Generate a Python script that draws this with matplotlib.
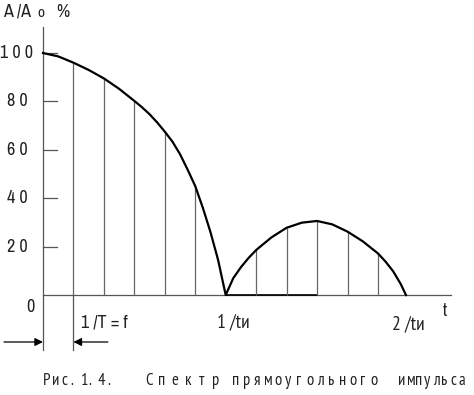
import matplotlib
matplotlib.use("Agg")
import matplotlib.pyplot as plt
from matplotlib import font_manager
from matplotlib.ft2font import FT2Font

# harmonic numbers k (x in units of 1/T) and amplitude A/A0, %
line_k_lobe1 = [1, 2, 3, 4, 5]
line_a_lobe1 = [96, 89.5, 80.2, 67.5, 45]
line_k_lobe2 = [7, 8, 9, 10, 11]
line_a_lobe2 = [18.6, 27.8, 30.6, 26.2, 17.2]

# envelope
env_k = [0, 0.5, 1, 1.5, 2, 2.5, 3, 3.25, 3.5, 3.75, 4, 4.25, 4.5, 4.75, 5, 5.25, 5.5, 5.75, 6,
         6.25, 6.5, 6.75, 7, 7.5, 8, 8.5, 9, 9.5, 10, 10.5, 11, 11.25, 11.5, 11.75, 11.92]
env_a = [100, 98.6, 96, 93, 89.5, 85.2, 80.2, 77.6, 74.7, 71.3, 67.5, 63.4, 58.2, 51.8, 45, 36, 26, 14.5, 0,
         7, 11.5, 15.3, 18.6, 23.8, 27.8, 29.9, 30.6, 29.2, 26.2, 22.2, 17.2, 13.8, 9.8, 4.5, 0]

y_ticks = [20, 40, 60, 80, 100]
y_tick_labels = ["2 0", "4 0", "6 0", "8 0", "1 0 0"]

caption_words = ["Рис.1.4.", "Спектр", "прямоугольного", "импульса"]
caption_spans = [(0, 2.3), (3.35, 5.75), (6.21, 10.95), (11.66, 13.85)]   # in k units

PX = 1 / 30.45  # one pixel in k units


def has_cyr(path):
    try:
        return 0x0438 in FT2Font(path).get_charmap()
    except Exception:
        return False


# condensed faces: one for latin/digits, one that also has cyrillic
cands = []
for key in ("Narrow", "Condensed"):
    for f in font_manager.fontManager.ttflist:
        if key in f.name and f.style == "normal" and f.weight in (400, "normal", "regular"):
            cands.append(f)
for f in font_manager.fontManager.ttflist:
    if f.stretch in ("condensed", "semi-condensed") and f.style == "normal" \
            and f.weight in (400, "normal", "regular") and f not in cands:
        cands.append(f)

lat = cands[0] if cands else None
cyr = next((f for f in cands if has_cyr(f.fname)), None)

if lat is not None:
    fp_lat = font_manager.FontProperties(fname=lat.fname)
else:
    fp_lat = font_manager.FontProperties(family="Roboto")
if cyr is not None:
    fp_cyr = font_manager.FontProperties(fname=cyr.fname)
else:
    fp_cyr = font_manager.FontProperties(family=["Roboto", "DejaVu Sans"])
base = 13

fig = plt.figure(figsize=(4.74, 3.95), dpi=100)
ax = fig.add_axes([0, 0, 1, 1])
ax.set_xlim(-1.412, 14.154)
ax.set_ylim(-41.3, 121.9)
ax.axis("off")

axc = "#555555"
# axes
ax.plot([0, 0], [110.7, -22.7], color=axc, lw=0.9)
ax.plot([0, 13.4], [0, 0], color=axc, lw=0.9)
ax.plot([6, 9], [0, 0], color="black", lw=1.2)
for t in y_ticks:
    ax.plot([0, 0.46], [t, t], color=axc, lw=0.9)

# spectral lines
ax.vlines(line_k_lobe1, 0, line_a_lobe1, color="#666666", lw=0.9)
ax.vlines(line_k_lobe2, 0, line_a_lobe2, color="#666666", lw=0.9)
ax.plot([1, 1], [0, -22.7], color=axc, lw=0.9)

# envelope
ax.plot(env_k, env_a, color="black", lw=1.6, solid_joinstyle="round")


def txt(x, y, s, size=None, fp=fp_lat, **kw):
    p = fp.copy()
    p.set_size(size or base)
    return ax.text(x, y, s, fontproperties=p, color="#222222", **kw)


for t, lab in zip(y_ticks, y_tick_labels):
    txt(-0.854, t, lab, ha="center", va="center")
txt(-0.41, -4.75, "0", ha="center", va="center")
txt(1.25, -11.4, "1 /T = f", ha="left", va="center")
txt(6.24, -11.4, "1 /tи", fp=fp_cyr, size=14, ha="center", va="center")
txt(11.99, -12.2, "2 /tи", fp=fp_cyr, size=14, ha="center", va="center")
txt(13.2, -6.6, "t", ha="center", va="center")

txt(-1.31, 117, "A /A", ha="left", va="center")
txt(-0.17, 116.6, "o", size=base - 2, ha="left", va="center")
txt(0.43, 117, "%", ha="left", va="center")

# interval arrows
for tip, tail in [(0, -1.28), (1, 2.13)]:
    ax.annotate("", xy=(tip, -19.4), xytext=(tail, -19.4),
                arrowprops=dict(arrowstyle="-|>", color="black", lw=0.9, mutation_scale=12,
                                shrinkA=0, shrinkB=0))

# caption, letter-spaced like the typewritten original
for word, (x0, x1) in zip(caption_words, caption_spans):
    n = len(word)
    pitch = (x1 - x0 - 6 * PX) / (n - 1)
    for i, ch in enumerate(word):
        txt(x0 + i * pitch, -35.5, ch, size=12, fp=fp_cyr, ha="left", va="center")

fig.savefig("out.png", dpi=100)
